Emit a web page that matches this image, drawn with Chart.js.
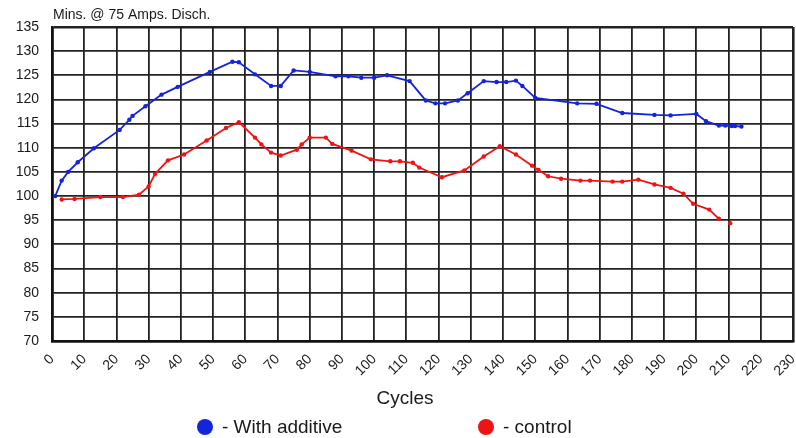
<!DOCTYPE html>
<html>
<head>
<meta charset="utf-8">
<script src="https://cdn.jsdelivr.net/npm/chart.js@4"></script>
<style>
    html, body { margin: 0; padding: 0; background: #fff; }
    #wrap { width: 796px; height: 438px; }
</style>
</head>
<body>
<div id="wrap"><canvas id="chart" width="796" height="438"></canvas></div>
<script>
// Valores
const additiveCycles = [1, 3, 5, 8, 13, 21, 24, 25, 29, 34, 39, 49, 56, 58, 63, 68, 71, 75, 80, 88, 92, 96, 100, 104, 111, 116, 119, 122, 126, 129, 134, 138, 141, 144, 146, 150, 163, 169, 177, 187, 192, 200, 203, 207, 209, 211, 212, 214];
const additiveMins = [100.0, 103.2, 105.0, 107.0, 109.9, 113.7, 115.8, 116.6, 118.6, 121.0, 122.6, 125.7, 127.8, 127.7, 125.2, 122.8, 122.8, 126.0, 125.7, 124.8, 124.8, 124.5, 124.5, 125.0, 123.8, 119.8, 119.2, 119.2, 119.8, 121.3, 123.8, 123.6, 123.6, 123.9, 122.8, 120.3, 119.2, 119.1, 117.2, 116.8, 116.7, 117.0, 115.5, 114.6, 114.6, 114.5, 114.5, 114.4];

const controlCycles = [3, 7, 15, 22, 27, 30, 32, 36, 41, 48, 54, 58, 63, 65, 68, 71, 76, 77.5, 80, 85, 87, 93, 99, 105, 108, 112, 114, 121, 128, 134, 139, 144, 149, 151, 154, 158, 164, 167, 174, 177, 182, 187, 192, 196, 199, 204, 207, 209, 210.5];
const controlMins = [99.3, 99.4, 99.8, 99.8, 100.3, 102.0, 104.6, 107.4, 108.6, 111.5, 114.1, 115.3, 112.1, 110.7, 109.0, 108.4, 109.6, 110.7, 112.1, 112.1, 110.8, 109.4, 107.6, 107.2, 107.2, 106.9, 105.9, 103.9, 105.3, 108.2, 110.3, 108.6, 106.3, 105.4, 104.1, 103.6, 103.2, 103.2, 103.0, 103.0, 103.4, 102.4, 101.7, 100.5, 98.4, 97.2, 95.3, null, 94.4];

const xTicks = { min: 0, max: 230, step: 10 };
const yTicks = { min: 70, max: 135, step: 5 };

const yTitle = 'Mins. @ 75 Amps. Disch.';
const xTitle = 'Cycles';
const seriesNames = ['- With additive', '- control'];

const BLUE = '#1424dc';
const RED = '#ee1414';
const FONT = '"Liberation Sans", Arial, Helvetica, sans-serif';

function toPoints(xs, ys) {
    return xs.map((x, i) => ({ x: x, y: ys[i] }));
}

// Títulos dos eixos e legenda desenhados à mão
const extras = {
    id: 'extras',
    afterDraw(chart) {
        const ctx = chart.ctx;
        const area = chart.chartArea;
        ctx.save();
        ctx.fillStyle = '#1a1a1a';
        ctx.font = '14px ' + FONT;
        ctx.textAlign = 'left';
        ctx.textBaseline = 'middle';
        ctx.fillText(yTitle, area.left + 1, 15);

        ctx.font = '19px ' + FONT;
        ctx.textAlign = 'center';
        ctx.fillText(xTitle, 405, 399);

        const items = [
            { label: seriesNames[0], color: BLUE, cx: 205 },
            { label: seriesNames[1], color: RED, cx: 486 }
        ];
        ctx.textAlign = 'left';
        items.forEach(it => {
            ctx.beginPath();
            ctx.fillStyle = it.color;
            ctx.arc(it.cx, 427, 8, 0, Math.PI * 2);
            ctx.fill();
            ctx.fillStyle = '#1a1a1a';
            ctx.fillText(it.label, it.cx + 17, 428);
        });
        ctx.restore();
    }
};

const ctx = document.getElementById('chart').getContext('2d');
new Chart(ctx, {
    type: 'line',
    data: {
        datasets: [{
            label: seriesNames[0],
            data: toPoints(additiveCycles, additiveMins),
            borderColor: BLUE,
            backgroundColor: BLUE,
            borderWidth: 1.8,
            pointRadius: 2.2,
            pointHoverRadius: 2.2,
            pointBorderWidth: 0,
            tension: 0
        }, {
            label: seriesNames[1],
            data: toPoints(controlCycles, controlMins),
            borderColor: RED,
            backgroundColor: RED,
            borderWidth: 1.8,
            pointRadius: 2.2,
            pointHoverRadius: 2.2,
            pointBorderWidth: 0,
            tension: 0,
            spanGaps: false
        }]
    },
    options: {
        responsive: false,
        animation: false,
        layout: { padding: { left: 0, right: 3, top: 27, bottom: 27 } },
        plugins: {
            legend: { display: false },
            tooltip: { enabled: false }
        },
        scales: {
            x: {
                type: 'linear',
                min: xTicks.min,
                max: xTicks.max,
                afterFit: s => {
                    s.height = 70;
                    s.paddingLeft = 0;
                    s.paddingRight = 0;
                },
                ticks: {
                    stepSize: xTicks.step,
                    autoSkip: false,
                    maxRotation: 45,
                    minRotation: 45,
                    padding: 10,
                    color: '#1a1a1a',
                    font: { family: FONT, size: 14 }
                },
                grid: {
                    color: '#222',
                    lineWidth: c => (c.tick && (c.tick.value === xTicks.max || c.tick.value === xTicks.min)) ? 2.6 : 1.8,
                    drawTicks: false
                },
                border: { color: '#111', width: 2.6 }
            },
            y: {
                min: yTicks.min,
                max: yTicks.max,
                afterFit: s => { s.width = 52; },
                ticks: {
                    stepSize: yTicks.step,
                    padding: 13,
                    color: '#1a1a1a',
                    font: { family: FONT, size: 14 }
                },
                grid: {
                    color: '#222',
                    lineWidth: c => (c.tick && (c.tick.value === yTicks.max || c.tick.value === yTicks.min)) ? 2.6 : 1.8,
                    drawTicks: false
                },
                border: { color: '#111', width: 2.6 }
            }
        }
    },
    plugins: [extras]
});
</script>
</body>
</html>
